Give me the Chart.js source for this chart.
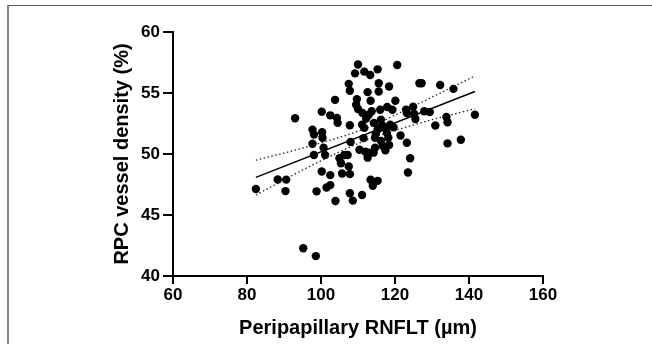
<!DOCTYPE html>
<html>
<head>
<meta charset="utf-8">
<script src="https://cdn.jsdelivr.net/npm/chart.js@4.4.1/dist/chart.umd.min.js"></script>
<style>
  html, body { margin: 0; padding: 0; background: #fff; }
  #wrap { position: relative; width: 652px; height: 344px; }
  #frame { position: absolute; left: 7px; top: 5px; right: 0; bottom: 0;
           border-top: 1px solid #555; border-left: 2px solid #888; pointer-events: none; }
</style>
</head>
<body>
<div id="wrap">
  <canvas id="c" width="652" height="344"></canvas>
  <div id="frame"></div>
</div>
<script>
// Peripapillary RNFLT (µm)
const rnflt = [82.4, 88.3, 90.6, 90.4, 93.0, 95.2, 98.6, 97.7, 98.1, 97.7, 98.1, 98.8,
  100.2, 100.3, 100.4, 100.7, 101.1, 100.2, 101.5, 102.5, 102.5, 102.5, 103.8, 104.3,
  104.5, 103.9, 105.0, 105.4, 105.7, 106.3, 107.2, 107.5, 107.8, 107.5, 107.8, 107.8,
  108.0, 107.8, 108.6, 109.2, 110.0, 109.7, 109.5, 110.0, 110.4, 111.1, 111.2, 111.5,
  111.1, 111.7, 112.6, 113.3, 112.9, 112.2, 111.7, 112.0, 112.6, 113.1, 113.4, 113.7,
  113.4, 114.0, 114.2, 114.6, 114.3, 114.8, 114.6, 115.3, 115.6, 115.6, 115.3, 115.3,
  116.0, 116.2, 116.5, 116.0, 116.2, 116.7, 117.4, 117.6, 117.8, 117.9, 118.4, 118.2,
  118.4, 118.7, 119.3, 119.6, 120.1, 120.6, 121.5, 123.0, 123.2, 123.2, 123.5, 124.1,
  124.9, 125.2, 125.5, 126.6, 127.2, 127.9, 129.4, 130.9, 132.2, 133.9, 134.2, 134.2,
  135.8, 137.8, 141.6];
// RPC vessel density (%)
const density = [47.13, 47.91, 47.9, 46.96, 52.93, 42.28, 41.63, 52.0, 51.6, 50.84, 49.92, 46.94,
  53.47, 51.79, 51.33, 50.51, 49.92, 48.56, 47.26, 47.45, 48.27, 53.17, 54.44, 52.95,
  52.55, 46.15, 49.65, 49.24, 48.40, 49.92, 49.92, 48.97, 48.35, 55.75, 55.18, 52.36,
  50.98, 46.78, 46.18, 56.61, 57.34, 54.5, 54.04, 53.69, 50.35, 52.41, 53.36, 51.3,
  46.64, 56.75, 55.07, 56.48, 53.22, 52.9, 52.14, 50.19, 49.7, 50.11, 54.36, 53.5,
  47.89, 47.4, 50.11, 50.51, 52.55, 51.65, 51.33, 56.94, 55.8, 55.12, 52.0, 47.8,
  53.63, 52.82, 52.36, 52.14, 51.06, 50.65, 50.3, 52.14, 51.73, 53.85, 55.53, 51.33,
  50.73, 52.41, 53.63, 52.2, 54.36, 57.29, 51.52, 53.63, 53.36, 50.92, 48.48, 49.65,
  53.88, 53.28, 52.87, 55.8, 55.8, 53.5, 53.44, 52.33, 55.66, 53.04, 52.6, 50.87,
  55.34, 51.17, 53.22];
// regression fit and 95% confidence band
const fitX = [82.4, 141.6];
const fitY = [48.08, 55.12];
const bandX = [82.4, 97, 112, 127, 141.6];
const bandUpper = [49.49, 50.65, 52.1, 54.22, 56.4];
const bandLower = [46.64, 48.99, 51.1, 52.56, 53.71];

const xTicks = [60, 80, 100, 120, 140, 160];
const yTicks = [40, 45, 50, 55, 60];

const pts = rnflt.map((x, i) => ({x: x, y: density[i]}));
const fit = fitX.map((x, i) => ({x: x, y: fitY[i]}));
const up = bandX.map((x, i) => ({x: x, y: bandUpper[i]}));
const lo = bandX.map((x, i) => ({x: x, y: bandLower[i]}));

const FONT = '"Liberation Sans", Arial, Helvetica, sans-serif';

new Chart(document.getElementById('c'), {
  type: 'scatter',
  data: {
    datasets: [
      { data: pts, pointRadius: 4.2, pointBackgroundColor: '#000', pointBorderWidth: 0,
        pointBorderColor: '#000', showLine: false, order: 1 },
      { data: fit, showLine: true, borderColor: '#000', borderWidth: 1.5, pointRadius: 0, order: 0 },
      { data: up, showLine: true, borderColor: '#222', borderWidth: 1.3, borderDash: [1.5, 2.5],
        pointRadius: 0, cubicInterpolationMode: 'monotone', order: 0 },
      { data: lo, showLine: true, borderColor: '#222', borderWidth: 1.3, borderDash: [1.5, 2.5],
        pointRadius: 0, cubicInterpolationMode: 'monotone', order: 0 }
    ]
  },
  options: {
    responsive: false,
    animation: false,
    events: [],
    layout: { padding: { left: 0, top: 32, right: 109, bottom: 0 } },
    plugins: { legend: { display: false }, tooltip: { enabled: false } },
    scales: {
      x: {
        type: 'linear', min: 60, max: 160,
        afterBuildTicks: s => { s.ticks = xTicks.map(v => ({value: v})); },
        afterFit: s => { s.height = 68; },
        grid: { display: true, drawOnChartArea: false, drawTicks: true, tickLength: 8,
                color: '#000', lineWidth: 2 },
        border: { display: true, color: '#000', width: 2 },
        ticks: { color: '#000', padding: 1, maxRotation: 0, autoSkip: false,
                 font: { family: FONT, size: 17, weight: 'bold' } },
        title: { display: true, text: 'Peripapillary RNFLT (µm)', color: '#000',
                 padding: { top: 0, bottom: 4 },
                 font: { family: FONT, size: 20, weight: 'bold' } }
      },
      y: {
        type: 'linear', min: 40, max: 60,
        afterBuildTicks: s => { s.ticks = yTicks.map(v => ({value: v})); },
        afterFit: s => { s.width = 173; },
        grid: { display: true, drawOnChartArea: false, drawTicks: true, tickLength: 10,
                color: '#000', lineWidth: 2 },
        border: { display: true, color: '#000', width: 2 },
        ticks: { color: '#000', padding: 3, autoSkip: false,
                 font: { family: FONT, size: 17, weight: 'bold' } },
        title: { display: true, text: 'RPC vessel density (%)', color: '#000',
                 padding: { top: 110, bottom: 0 },
                 font: { family: FONT, size: 20, weight: 'bold' } }
      }
    }
  }
});
</script>
</body>
</html>
